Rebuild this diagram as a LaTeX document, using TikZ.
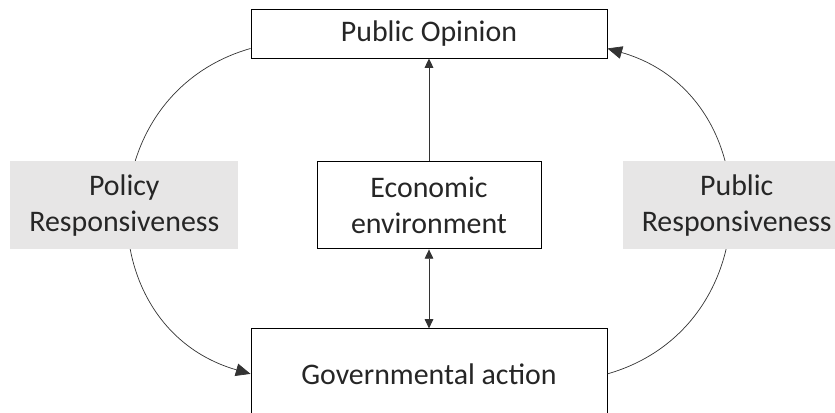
\documentclass[tikz,border=0pt]{standalone}
\usepackage{fontspec}
\setmainfont{Carlito}
\usetikzlibrary{arrows.meta, positioning}
\definecolor{labelgray}{HTML}{E7E6E6}
\definecolor{inkcolor}{HTML}{262626}

\begin{document}
\begin{tikzpicture}[
    x=0.3mm, y=0.3mm,
    box/.style={draw, line width=0.8pt, fill=white, text=inkcolor, inner sep=0pt, align=center, font=\fontsize{25.5}{31}\selectfont},
    tag/.style={fill=labelgray, text=inkcolor, inner sep=0pt, minimum width=68.4mm, minimum height=26.4mm, align=center, font=\fontsize{25.5}{31}\selectfont},
    arrow/.style={-{Triangle[length=2.8mm, width=2.6mm]}, line width=0.8pt, draw=black!80},
    biarrow/.style={{Triangle[length=2.8mm, width=2.6mm]}-{Triangle[length=2.8mm, width=2.6mm]}, line width=0.8pt, draw=black!80},
    loop/.style={-{Triangle[length=4.4mm, width=3.8mm]}, line width=0.6pt, draw=black!80, looseness=1.33}
]
    \useasboundingbox (0,0) rectangle (835,412);

    % Main boxes
    \node[box, minimum width=106.8mm, minimum height=14.7mm] (opinion) at (429,378.5) {Public Opinion};
    \node[box, minimum width=67.2mm, minimum height=26.1mm, below=30.9mm of opinion] (economy) {Economic\\environment};
    \node[box, minimum width=106.8mm, minimum height=27mm, below=23.7mm of economy] (government) {Governmental action};

    % Links through the economy
    \draw[arrow] (economy) -- (opinion);
    \draw[biarrow] (economy) -- (government);

    % Feedback loops
    \draw[loop] ([yshift=3mm]opinion.south west) to[out=196, in=164] (government.west);
    \draw[loop] (government.east) to[out=16, in=-16] ([yshift=3mm]opinion.south east);

    % Labels on the loops
    \node[tag, left=23.4mm of economy] (policy) {Policy\\Responsiveness};
    \node[tag, right=24.3mm of economy] (public) {Public\\Responsiveness};
\end{tikzpicture}
\end{document}
